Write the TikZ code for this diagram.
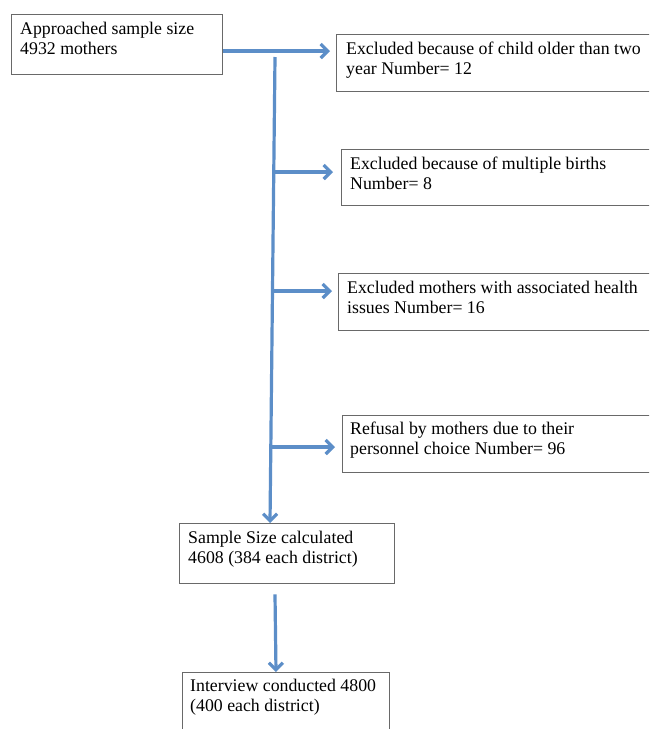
\documentclass[tikz,border=0pt]{standalone}
\usepackage{fontspec}
\setmainfont{Liberation Serif}
\usetikzlibrary{arrows.meta,calc}
\definecolor{arrblue}{RGB}{92,142,200}
\definecolor{boxgray}{RGB}{105,105,105}
\begin{document}
\begin{tikzpicture}[x=1pt,y=-1pt,
  box/.style={draw=boxgray, line width=1.4pt, rectangle, inner sep=0pt, anchor=north west},
  txt/.style={anchor=base west, inner sep=0pt, text=black, font=\fontsize{17.8}{20}\selectfont},
  arr/.style={draw=arrblue, line width=3.2pt, -{Straight Barb[length=7pt,width=14pt]}}]
\useasboundingbox (0,0) rectangle (649,729);
\clip (0,0) rectangle (649,729);
\fill[white] (0,0) rectangle (649,729);

% boxes
\node[box, minimum width=211pt, minimum height=60pt] (A) at (11,14) {};
\node[box, minimum width=330pt, minimum height=57pt] (E1) at (336,34) {};
\node[box, minimum width=330pt, minimum height=56pt] (E2) at (341,149) {};
\node[box, minimum width=330pt, minimum height=57pt] (E3) at (338,273) {};
\node[box, minimum width=330pt, minimum height=57pt] (E4) at (342,415) {};
\node[box, minimum width=215pt, minimum height=60pt] (S) at (179,523) {};
\node[box, minimum width=207pt, minimum height=80pt] (I) at (182,672) {};

% texts
\node[txt] (A1) at ($(A.north west)+(9,20)$) {Approached sample size};
\node[txt] (A2) at ($(A.north west)+(9,40)$) {4932 mothers};
\node[txt] (E11) at ($(E1.north west)+(10,20)$) {Excluded because of child older than two};
\node[txt] (E12) at ($(E1.north west)+(10,40)$) {year Number= 12};
\node[txt] (E21) at ($(E2.north west)+(9,20)$) {Excluded because of multiple births};
\node[txt] (E22) at ($(E2.north west)+(9,40)$) {Number= 8};
\node[txt] (E31) at ($(E3.north west)+(9,20)$) {Excluded mothers with associated health};
\node[txt] (E32) at ($(E3.north west)+(9,40)$) {issues Number= 16};
\node[txt] (E41) at ($(E4.north west)+(8,19)$) {Refusal by mothers due to their};
\node[txt] (E42) at ($(E4.north west)+(8,39)$) {personnel choice Number= 96};
\node[txt] (S1) at ($(S.north west)+(9,20)$) {Sample Size calculated};
\node[txt] (S2) at ($(S.north west)+(9,40)$) {4608 (384 each district)};
\node[txt] (I1) at ($(I.north west)+(8,19)$) {Interview conducted 4800};
\node[txt] (I2) at ($(I.north west)+(8,39)$) {(400 each district)};

% connectors
\draw[arr] ($(A.north east)+(0,37)$) -- ($(E1.north west)+(-6,17)$);
\coordinate (tTop) at (275,57);
\coordinate (tBot) at ($(S.north west)+(91,0)$);
\draw[arr] (tTop) -- (tBot);
\coordinate (b2) at (273.8,172);
\coordinate (b3) at (272.5,291);
\coordinate (b4) at (270.8,447);
\draw[arr] (b2) -- ($(E2.north west)+(-8,23)$);
\draw[arr] (b3) -- ($(E3.north west)+(-6,18)$);
\draw[arr] (b4) -- ($(E4.north west)+(-7,32)$);
\draw[arr] ($(S.south west)+(96,10)$) -- ($(I.north west)+(94,0)$);
\end{tikzpicture}
\end{document}
